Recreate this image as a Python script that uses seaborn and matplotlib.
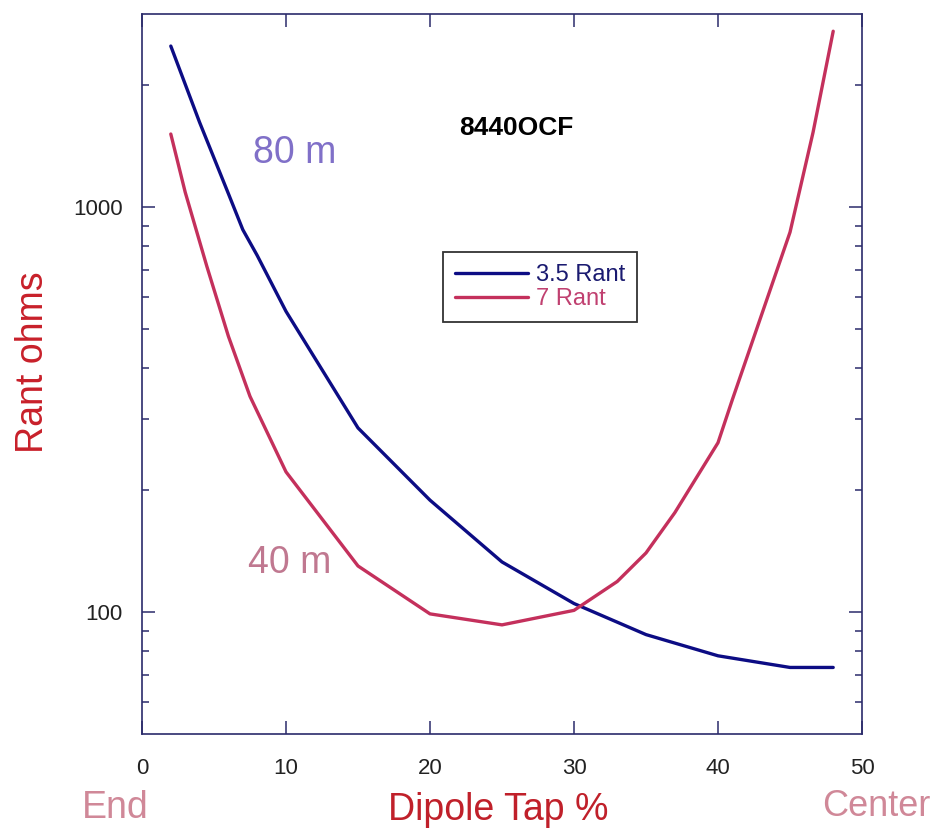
import matplotlib
matplotlib.use("Agg")
import matplotlib.pyplot as plt
import matplotlib.ticker as mticker
import pandas as pd
import seaborn as sns

# Dipole tap position (% of length from end)
tap_80m = [2, 4, 6, 7, 8, 10, 15, 20, 25, 30, 35, 40, 45, 48]
rant_80m = [2500, 1620, 1080, 880, 760, 553, 285, 189, 133, 105, 88, 78, 73, 73]

tap_40m = [2, 3, 4.5, 6, 7.5, 10, 15, 20, 25, 30, 33, 35, 37, 40, 41, 45, 46.6, 48]
rant_40m = [1516, 1089, 715, 480, 341, 222, 130, 99, 93, 101, 119, 140, 176, 262, 335, 867, 1530, 2720]

series_names = ["3.5 Rant", "7 Rant"]
line_colors = ["#0c0c84", "#c4305c"]

df = pd.concat([
    pd.DataFrame({"tap": tap_80m, "rant": rant_80m, "band": series_names[0]}),
    pd.DataFrame({"tap": tap_40m, "rant": rant_40m, "band": series_names[1]}),
])

sns.set_style("white")
plt.rcParams["font.family"] = ["Liberation Sans", "DejaVu Sans"]

W, H = 937, 834
fig = plt.figure(figsize=(W / 100, H / 100), dpi=100)
ax = fig.add_axes([142 / W, 1 - 734 / H, 720 / W, 720 / H])

sns.lineplot(data=df, x="tap", y="rant", hue="band", palette=line_colors,
             linewidth=2.4, ax=ax, legend=True)

ax.set_yscale("log")
ax.set_xlim(0, 50)
ax.set_ylim(50, 3000)

frame = "#2b2b6b"
for s in ax.spines.values():
    s.set_color(frame)
    s.set_linewidth(1.2)

ax.xaxis.set_major_locator(mticker.FixedLocator([0, 10, 20, 30, 40, 50]))
ax.xaxis.set_major_formatter(mticker.FixedFormatter(["0", "10", "20", "30", "40", "50"]))
ax.xaxis.set_minor_locator(mticker.NullLocator())
ax.yaxis.set_major_locator(mticker.FixedLocator([100, 1000]))
ax.yaxis.set_major_formatter(mticker.FixedFormatter(["100", "1000"]))
ax.yaxis.set_minor_locator(mticker.FixedLocator([60, 70, 80, 90, 200, 300, 400, 500,
                                                 600, 700, 800, 900, 2000]))
ax.yaxis.set_minor_formatter(mticker.NullFormatter())
ax.tick_params(which="major", direction="in", length=9.5, width=1.1, color=frame,
               bottom=True, left=True, top=True, right=True,
               labelsize=16, labelcolor="#222222")
ax.tick_params(which="minor", direction="in", length=5, width=1.1, color=frame,
               left=True, right=True, bottom=False, top=False)
ax.tick_params(axis="x", pad=17)
ax.tick_params(axis="y", pad=14)
ax.set_xlabel("")
ax.set_ylabel("")

leg = ax.legend(loc="upper left", bbox_to_anchor=((443 - 142) / 720, 1 - (252 - 14) / 720),
                borderaxespad=0, frameon=True, fancybox=False, fontsize=17,
                handlelength=3.1, handletextpad=0.35, borderpad=0.5, labelspacing=0.1)
leg.get_frame().set_edgecolor("black")
leg.get_frame().set_linewidth(1.3)
for txt, c in zip(leg.get_texts(), ["#1a1a70", "#c04070"]):
    txt.set_color(c)

def px(x, y):
    return x / W, 1 - y / H

fig.text(*px(516, 128), "8440OCF", fontsize=19, fontweight="bold",
         ha="center", va="center", color="black")
fig.text(*px(295, 153), "80 m", fontsize=27, ha="center", va="center", color="#8070c8")
fig.text(*px(290, 563), "40 m", fontsize=27, ha="center", va="center", color="#c07890")
fig.text(*px(498, 810), "Dipole Tap %", fontsize=27, ha="center", va="center", color="#c0202a")
fig.text(*px(115, 808), "End", fontsize=27, ha="center", va="center", color="#d08898")
fig.text(*px(876, 806), "Center", fontsize=26, ha="center", va="center", color="#d08898")
fig.text(*px(33, 362), "Rant ohms", fontsize=27, rotation=90, ha="center", va="center",
         color="#c8202a")

fig.savefig("out.png", dpi=100, facecolor="white")
